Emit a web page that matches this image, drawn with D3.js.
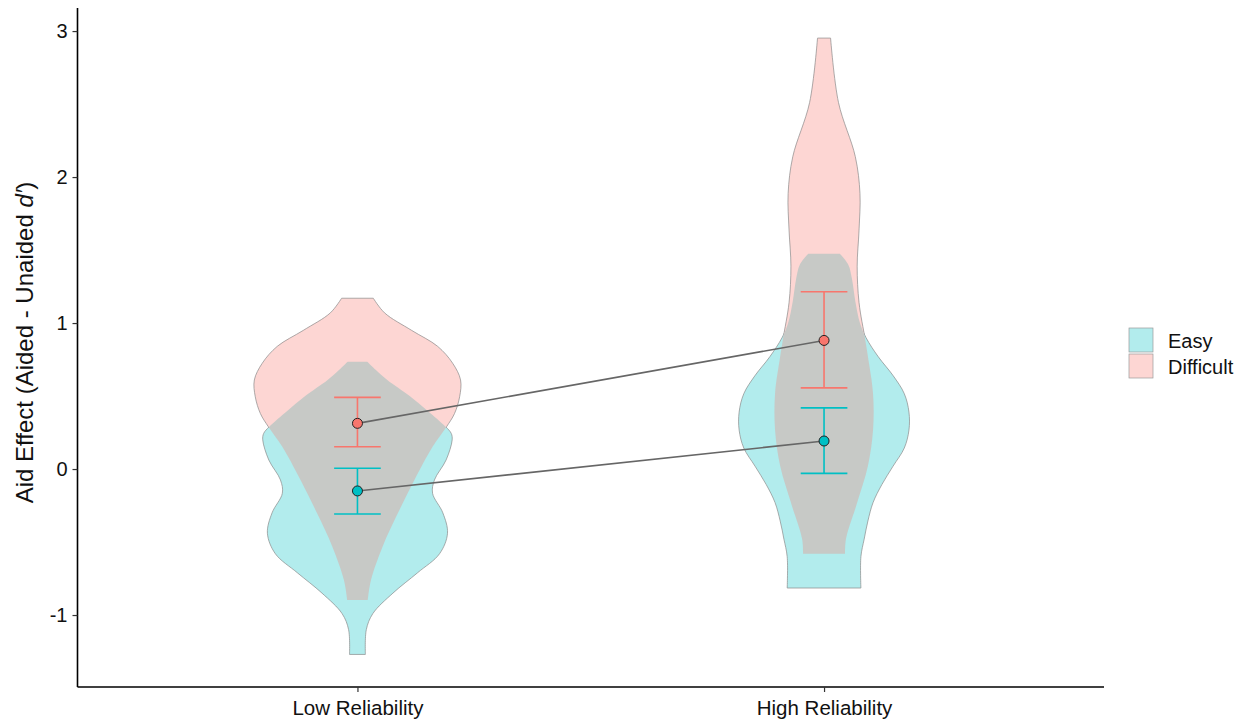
<!DOCTYPE html>
<html>
<head>
<meta charset="utf-8">
<script src="https://cdn.jsdelivr.net/npm/d3@7"></script>
<style>
  html, body { margin: 0; padding: 0; background: #fff; }
  svg { display: block; font-family: "Liberation Sans", Arial, sans-serif; }
</style>
</head>
<body>
<svg id="chart" width="1248" height="721"></svg>
<script>
// Conditions on the x axis and task difficulty groups
const categories = ["Low Reliability", "High Reliability"];
const groups = ["Easy", "Difficult"];
const groupColors = ["#00BFC4", "#F8766D"];
const yTicks = [-1, 0, 1, 2, 3];

// Violin density profiles: [aid effect, half-width in category units]
const lowEasyDensity = [
  [-1.27, 0.017], [-1.10, 0.019], [-0.99, 0.033], [-0.85, 0.076], [-0.71, 0.129],
  [-0.58, 0.176], [-0.44, 0.193], [-0.30, 0.183], [-0.166, 0.161], [-0.075, 0.165],
  [0.062, 0.190], [0.20, 0.203], [0.244, 0.201], [0.29, 0.189], [0.40, 0.150],
  [0.50, 0.112], [0.61, 0.064], [0.68, 0.039], [0.735, 0.021]
];
const lowDifficultDensity = [
  [-0.897, 0.022], [-0.76, 0.029], [-0.53, 0.054], [-0.30, 0.087], [-0.075, 0.122],
  [0.153, 0.161], [0.29, 0.191], [0.38, 0.208], [0.495, 0.219], [0.61, 0.221],
  [0.725, 0.204], [0.84, 0.172], [0.95, 0.116], [1.07, 0.058], [1.17, 0.034]
];
const highEasyDensity = [
  [-0.815, 0.079], [-0.60, 0.079], [-0.48, 0.086], [-0.356, 0.094], [-0.23, 0.105],
  [-0.106, 0.124], [0.02, 0.148], [0.144, 0.172], [0.267, 0.182], [0.39, 0.182],
  [0.516, 0.172], [0.64, 0.148], [0.77, 0.116], [0.90, 0.090], [1.0, 0.077],
  [1.15, 0.067], [1.30, 0.060], [1.40, 0.052], [1.475, 0.034]
];
const highDifficultDensity = [
  [-0.58, 0.045], [-0.48, 0.047], [-0.23, 0.071], [0.02, 0.094], [0.267, 0.105],
  [0.516, 0.105], [0.77, 0.094], [0.89, 0.088], [1.14, 0.075], [1.39, 0.071],
  [1.637, 0.075], [1.886, 0.077], [2.14, 0.067], [2.51, 0.031], [2.952, 0.014]
];

// Group means with confidence interval bounds, one value per category
const easyMean = [-0.150, 0.192];
const easyLower = [-0.308, -0.030];
const easyUpper = [0.005, 0.419];
const difficultMean = [0.313, 0.881];
const difficultLower = [0.153, 0.556];
const difficultUpper = [0.491, 1.214];

const svg = d3.select("#chart");

const x = d3.scaleLinear().domain([0.4, 2.6]).range([77.5, 1104]);
const y = d3.scaleLinear().domain([-1.493, 3.158]).range([687, 8]);
const halfWidth = d3.scaleLinear().domain([0, 1]).range([0, x(2) - x(1)]);

const violins = [
  { cat: 0, group: 0, data: lowEasyDensity },
  { cat: 0, group: 1, data: lowDifficultDensity },
  { cat: 1, group: 0, data: highEasyDensity },
  { cat: 1, group: 1, data: highDifficultDensity }
];

const violinPath = (v) => d3.area()
  .curve(d3.curveCatmullRom.alpha(0.5))
  .y(d => y(d[0]))
  .x0(d => x(v.cat + 1) - halfWidth(d[1]))
  .x1(d => x(v.cat + 1) + halfWidth(d[1]))(v.data);

const defs = svg.append("defs");
// Each outline is hidden where it lies inside the other violin of the same condition
violins.forEach((v, i) => {
  const other = violins.find(o => o.cat === v.cat && o.group !== v.group);
  const m = defs.append("mask").attr("id", "m" + i).attr("maskUnits", "userSpaceOnUse")
    .attr("x", 0).attr("y", 0).attr("width", 1248).attr("height", 721);
  m.append("rect").attr("width", 1248).attr("height", 721).attr("fill", "#fff");
  m.append("path").attr("d", violinPath(other)).attr("fill", "#000");
});

const gV = svg.append("g");
violins.forEach(v => {
  gV.append("path")
    .attr("d", violinPath(v))
    .attr("fill", groupColors[v.group])
    .attr("fill-opacity", 0.3)
    .attr("stroke", "none");
});
violins.forEach((v, i) => {
  gV.append("path")
    .attr("d", violinPath(v))
    .attr("fill", "none")
    .attr("stroke", "#8a8a8a")
    .attr("stroke-width", 0.7)
    .attr("mask", "url(#m" + i + ")");
});

// Error bars
const capHalf = halfWidth(0.05);
const series = [
  { g: 0, mean: easyMean, lo: easyLower, hi: easyUpper },
  { g: 1, mean: difficultMean, lo: difficultLower, hi: difficultUpper }
];
const gE = svg.append("g");
series.forEach(s => {
  categories.forEach((c, i) => {
    const cx = x(i + 1);
    const col = groupColors[s.g];
    gE.append("line").attr("x1", cx).attr("x2", cx)
      .attr("y1", y(s.lo[i])).attr("y2", y(s.hi[i]))
      .attr("stroke", col).attr("stroke-width", 1.6);
    [s.lo[i], s.hi[i]].forEach(val => {
      gE.append("line").attr("x1", cx - capHalf).attr("x2", cx + capHalf)
        .attr("y1", y(val)).attr("y2", y(val))
        .attr("stroke", col).attr("stroke-width", 1.6);
    });
  });
});

// Lines joining the group means across conditions
const line = d3.line().x((d, i) => x(i + 1)).y(d => y(d));
series.forEach(s => {
  svg.append("path").attr("d", line(s.mean))
    .attr("fill", "none").attr("stroke", "#666").attr("stroke-width", 1.6);
});
series.forEach(s => {
  s.mean.forEach((m, i) => {
    svg.append("circle").attr("cx", x(i + 1)).attr("cy", y(m)).attr("r", 5)
      .attr("fill", groupColors[s.g]).attr("stroke", "#222").attr("stroke-width", 1);
  });
});

// Axes
const yAxis = d3.axisLeft(y).tickValues(yTicks).tickSize(5).tickPadding(5).tickFormat(d => String(d));
const gy = svg.append("g").attr("transform", `translate(${x(0.4)},0)`).call(yAxis);
gy.select(".domain").attr("d", `M0,${y(3.158)}V${y(-1.493)}`).attr("stroke", "#000").attr("stroke-width", 1.6);
gy.selectAll(".tick line").attr("stroke", "#333").attr("stroke-width", 1.2);
gy.selectAll(".tick text").attr("font-size", 20).attr("fill", "#111")
  .attr("font-family", "Liberation Sans, Arial, sans-serif");

const xAxis = d3.axisBottom(x).tickValues([1, 2]).tickSize(5).tickPadding(8)
  .tickFormat((d, i) => categories[i]);
const gx = svg.append("g").attr("transform", `translate(0,${y(-1.493)})`).call(xAxis);
gx.select(".domain").attr("d", `M${x(0.4)},0H${x(2.6)}`).attr("stroke", "#000").attr("stroke-width", 1.6);
gx.selectAll(".tick line").attr("stroke", "#333").attr("stroke-width", 1.2);
gx.selectAll(".tick text").attr("font-size", 20.5).attr("fill", "#111")
  .attr("font-family", "Liberation Sans, Arial, sans-serif");

// Y axis title
const yt = svg.append("text")
  .attr("transform", `translate(33,${(y(3.158) + y(-1.493)) / 2 - 5}) rotate(-90)`)
  .attr("text-anchor", "middle").attr("font-size", 24).attr("fill", "#111");
yt.append("tspan").text("Aid Effect (Aided - Unaided ");
yt.append("tspan").attr("font-style", "italic").text("d′");
yt.append("tspan").text(")");

// Legend
const legend = svg.append("g").attr("transform", "translate(1129,328)");
groups.forEach((g, i) => {
  const row = legend.append("g").attr("transform", `translate(0,${i * 26})`);
  row.append("rect").attr("width", 24).attr("height", 24)
    .attr("fill", groupColors[i]).attr("fill-opacity", 0.3)
    .attr("stroke", "#9a9a9a").attr("stroke-width", 0.7);
  row.append("text").attr("x", 39).attr("y", 20).attr("font-size", 20)
    .attr("fill", "#111").text(g);
});
</script>
</body>
</html>
